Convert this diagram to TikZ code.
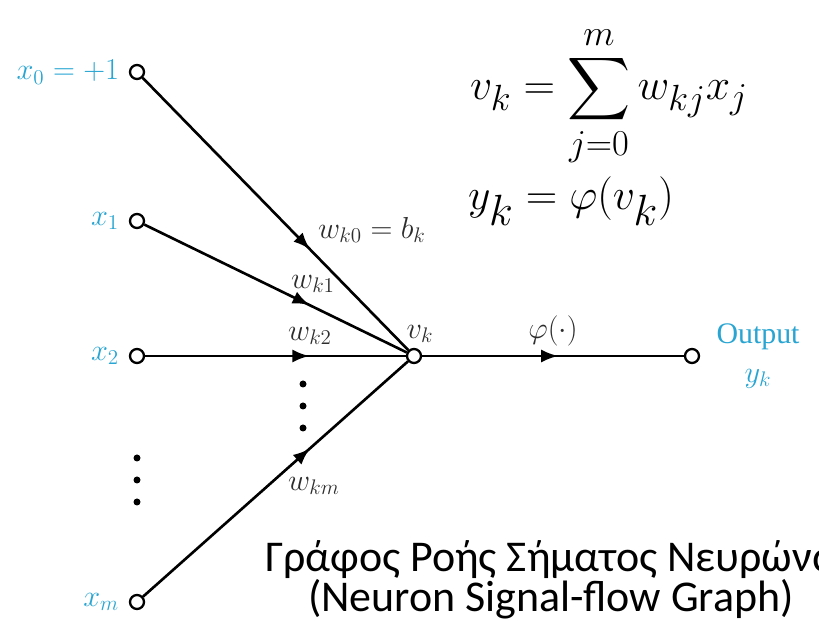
\documentclass[tikz,border=0pt]{standalone}
\usepackage{amsmath}
\usepackage{fontspec}
\newfontfamily\capfont{Carlito}
\newfontfamily\timesfont{Liberation Serif}
\usetikzlibrary{arrows.meta,positioning,decorations.markings}
\definecolor{inblue}{RGB}{40,165,210}
\definecolor{lblgray}{RGB}{45,45,45}

\begin{document}
\begin{tikzpicture}[
    x=0.02cm, y=-0.02cm,
    every node/.style={font=\fontsize{17}{20}\selectfont},
    port/.style={draw, circle, fill=white, inner sep=0pt, minimum size=0.28cm, line width=1.3pt},
    inlabel/.style={text=inblue},
    wlabel/.style={text=lblgray},
    dot/.style={circle, fill=black, inner sep=0pt, minimum size=0.14cm},
    flow/.style={line width=1.5pt, postaction={decorate},
        decoration={markings, mark=at position #1 with {\arrow{Latex[length=3.4mm,width=2.6mm]}}}},
    flow/.default=0.63
]
\useasboundingbox (0,0) rectangle (819,621);

% inputs, summing junction and output
\node[port] (x0) at (137,72) {};
\node[port] (x1) at (137,221) {};
\node[port] (x2) at (137,356) {};
\node[port] (xm) at (137,602) {};
\node[port] (vk) at (414,356) {};
\node[port] (out) at (692,356) {};

\node[inlabel, left=2pt of x0] (x0lbl) {$x_0 = +1$};
\node[inlabel, left=2pt of x1] (x1lbl) {$x_1$};
\node[inlabel, left=2pt of x2] (x2lbl) {$x_2$};
\node[inlabel, left=2pt of xm] (xmlbl) {$x_m$};
\node[inlabel, align=center, font=\timesfont\fontsize{17}{22}\selectfont] (outlbl) at (758,356) {Output\\$y_k$};

% synaptic links
\draw[flow] (x0) -- (vk);
\draw[flow] (x1) -- (vk);
\draw[flow] (x2) -- (vk);
\draw[flow] (xm) -- (vk);
\draw[flow=0.52] (vk) -- (out);

\node[wlabel] (wk0) at (372,230) {$w_{k0} = b_k$};
\node[wlabel] (wk1) at (313,284) {$w_{k1}$};
\node[wlabel] (wk2) at (310,336) {$w_{k2}$};
\node[wlabel] (wkm) at (314,486) {$w_{km}$};
\node[wlabel] (vklbl) at (420,334) {$v_k$};
\node[wlabel] (philbl) at (553,331) {$\varphi(\cdot)$};

% ellipses
\foreach \y in {458,480,502} \node[dot] at (137,\y) {};
\foreach \y in {384,406,428} \node[dot] at (303,\y) {};

% equations
\node[anchor=base west, font=\fontsize{31}{36}\selectfont] (sumeq) at (464,100)
    {$\displaystyle v_k = \sum_{j=0}^{m} w_{kj}x_j$};
\node[anchor=base west, font=\fontsize{33}{40}\selectfont] (acteq) at (462,210)
    {$y_k = \varphi(v_k)$};

% caption
\node[align=center, font=\capfont\fontsize{25}{23}\selectfont] (caption) at (551,580)
    {Γράφος Ροής Σήματος Νευρώνα\\(Neuron Signal-flow Graph)};
\end{tikzpicture}
\end{document}
